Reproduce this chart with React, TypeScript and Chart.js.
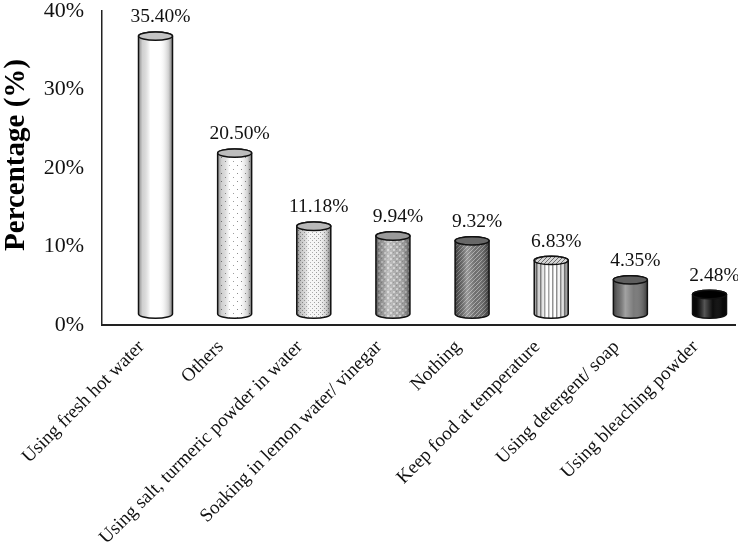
import React, { useEffect, useRef } from "react";
import { Chart, registerables } from "chart.js";

Chart.register(...registerables);

const categories = [
  "Using fresh hot water",
  "Others",
  "Using salt, turmeric powder in water",
  "Soaking in lemon water/ vinegar",
  "Nothing",
  "Keep food at temperature",
  "Using detergent/ soap",
  "Using bleaching powder",
];
const values = [35.4, 20.5, 11.18, 9.94, 9.32, 6.83, 4.35, 2.48];
const valueLabels = ["35.40%", "20.50%", "11.18%", "9.94%", "9.32%", "6.83%", "4.35%", "2.48%"];
const yTicks = [0, 10, 20, 30, 40];

const SERIF = "'Liberation Serif', 'Times New Roman', serif";

function makePattern(ctx: CanvasRenderingContext2D, kind: number): CanvasPattern | string {
  const c = document.createElement("canvas");
  const g = c.getContext("2d")!;
  if (kind === 0) return "#ffffff";
  if (kind === 1) {
    c.width = 8; c.height = 8;
    g.fillStyle = "#ffffff"; g.fillRect(0, 0, 8, 8);
    g.fillStyle = "#8a8a8a";
    g.fillRect(1, 1, 1, 1); g.fillRect(5, 5, 1, 1);
  } else if (kind === 2) {
    c.width = 4; c.height = 4;
    g.fillStyle = "#f4f4f4"; g.fillRect(0, 0, 4, 4);
    g.fillStyle = "#9a9a9a";
    g.fillRect(0, 0, 1, 1); g.fillRect(2, 2, 1, 1);
  } else if (kind === 3) {
    c.width = 6; c.height = 6;
    g.fillStyle = "#a9a9a9"; g.fillRect(0, 0, 6, 6);
    g.fillStyle = "#cfcfcf";
    g.fillRect(0, 0, 2, 2); g.fillRect(3, 3, 2, 2);
    g.fillStyle = "#8e8e8e";
    g.fillRect(3, 0, 1, 1); g.fillRect(0, 3, 1, 1);
  } else if (kind === 4) {
    c.width = 4; c.height = 4;
    g.fillStyle = "#6e6e6e"; g.fillRect(0, 0, 4, 4);
    g.fillStyle = "#a8a8a8";
    g.fillRect(1, 0, 1, 1); g.fillRect(3, 2, 1, 1); g.fillRect(0, 1, 1, 1); g.fillRect(2, 3, 1, 1);
  } else if (kind === 5) {
    c.width = 4; c.height = 4;
    g.fillStyle = "#ffffff"; g.fillRect(0, 0, 4, 4);
    g.fillStyle = "#8c8c8c";
    g.fillRect(0, 0, 1, 4);
    g.fillStyle = "#c8c8c8";
    g.fillRect(1, 0, 1, 4);
  } else if (kind === 6) {
    return "#7a7a7a";
  } else {
    return "#0c0c0c";
  }
  return ctx.createPattern(c, "repeat")!;
}

function makeHatch(ctx: CanvasRenderingContext2D): CanvasPattern {
  const c = document.createElement("canvas");
  c.width = 4; c.height = 4;
  const g = c.getContext("2d")!;
  g.fillStyle = "#d6d6d6"; g.fillRect(0, 0, 4, 4);
  g.strokeStyle = "#6a6a6a"; g.lineWidth = 1;
  g.beginPath(); g.moveTo(0, 4); g.lineTo(4, 0); g.stroke();
  return ctx.createPattern(c, "repeat")!;
}

const topColors = ["#c4c4c4", "#bdbdbd", "#b8b8b8", "#9a9a9a", "#686868", "hatch", "#5e5e5e", "#000000"];

const cylinderPlugin = {
  id: "cylinders",
  afterDatasetsDraw(chart: any) {
    const ctx: CanvasRenderingContext2D = chart.ctx;
    const meta = chart.getDatasetMeta(0);
    meta.data.forEach((el: any, i: number) => {
      const { x, y, base, width } = el.getProps(["x", "y", "base", "width"], true);
      const rx = width / 2;
      const ry = 4.2;
      const left = x - rx;
      const right = x + rx;
      ctx.save();
      const body = () => {
        ctx.beginPath();
        ctx.moveTo(left, y);
        ctx.lineTo(left, base);
        ctx.ellipse(x, base, rx, ry, 0, Math.PI, 0, true);
        ctx.lineTo(right, y);
        ctx.ellipse(x, y, rx, ry, 0, 0, Math.PI, true);
        ctx.closePath();
      };
      body();
      ctx.fillStyle = makePattern(ctx, i) as any;
      ctx.fill();
      const grad = ctx.createLinearGradient(left, 0, right, 0);
      grad.addColorStop(0, "rgba(0,0,0,0.45)");
      grad.addColorStop(0.12, "rgba(0,0,0,0.18)");
      grad.addColorStop(0.35, "rgba(255,255,255,0.30)");
      grad.addColorStop(0.6, "rgba(255,255,255,0.0)");
      grad.addColorStop(0.88, "rgba(0,0,0,0.18)");
      grad.addColorStop(1, "rgba(0,0,0,0.5)");
      body();
      ctx.fillStyle = grad;
      ctx.fill();
      ctx.lineWidth = 1.5;
      ctx.strokeStyle = "#111";
      body();
      ctx.stroke();
      ctx.beginPath();
      ctx.ellipse(x, y, rx, ry, 0, 0, Math.PI * 2);
      ctx.fillStyle = topColors[i] === "hatch" ? (makeHatch(ctx) as any) : topColors[i];
      ctx.fill();
      ctx.lineWidth = 1.5;
      ctx.strokeStyle = "#111";
      ctx.stroke();
      ctx.fillStyle = "#111";
      ctx.font = `19.5px ${SERIF}`;
      ctx.textAlign = "center";
      ctx.textBaseline = "middle";
      ctx.fillText(valueLabels[i], x + 5, y - 19);
      ctx.restore();
    });
  },
  afterDraw(chart: any) {
    const ctx: CanvasRenderingContext2D = chart.ctx;
    ctx.save();
    ctx.translate(17, 155);
    ctx.rotate(-Math.PI / 2);
    ctx.font = `bold 29px ${SERIF}`;
    ctx.fillStyle = "#000";
    ctx.textAlign = "center";
    ctx.textBaseline = "middle";
    ctx.fillText("Percentage (%)", 0, 0);
    ctx.restore();
  },
};

export default function App() {
  const ref = useRef<HTMLCanvasElement>(null);
  useEffect(() => {
    const chart = new Chart(ref.current!, {
      type: "bar",
      data: {
        datasets: [
          {
            data: values.map((v, i) => ({ x: i, y: v })),
            backgroundColor: "rgba(0,0,0,0)",
            borderWidth: 0,
            barThickness: 34,
            yAxisID: "y2",
          },
        ],
      },
      options: {
        animation: false,
        responsive: true,
        maintainAspectRatio: false,
        layout: { padding: { top: 11, right: 3, left: 0, bottom: 0 } },
        plugins: { legend: { display: false }, tooltip: { enabled: false } },
        scales: {
          x: {
            type: "linear",
            offset: false,
            min: -0.676,
            max: 7.322,
            grid: { display: false, drawTicks: false, offset: false },
            border: { display: true, color: "#222", width: 2 },
            ticks: {
              stepSize: 1,
              includeBounds: false,
              autoSkip: false,
              maxRotation: 45,
              minRotation: 45,
              labelOffset: -14,
              padding: 11,
              color: "#111",
              font: { family: SERIF, size: 19 },
              callback: (v: any) => (Number.isInteger(v) && categories[v] ? categories[v] : ""),
            },
            afterFit: (s: any) => {
              s.height = 217;
              s.paddingLeft = 0;
              s.paddingRight = 0;
            },
          },
          y: {
            type: "linear",
            min: 0,
            max: 40,
            grid: { display: false, drawTicks: false },
            border: { display: true, color: "#222", width: 1.5 },
            afterBuildTicks: (s: any) => {
              s.ticks = yTicks.map((v) => ({ value: v }));
            },
            ticks: {
              padding: 18,
              color: "#111",
              font: { family: SERIF, size: 22 },
              callback: (v: any) => `${v}%`,
            },
            afterFit: (s: any) => {
              s.width = 102;
              s.paddingTop = 0;
              s.paddingBottom = 0;
            },
          },
          y2: {
            type: "linear",
            min: -1.4,
            max: 38.6,
            display: false,
          },
        },
      },
      plugins: [cylinderPlugin],
    } as any);
    return () => chart.destroy();
  }, []);
  return (
    <div style={{ position: "fixed", left: 0, top: 0, width: 738, height: 542, background: "#fff" }}>
      <canvas ref={ref} />
    </div>
  );
}
